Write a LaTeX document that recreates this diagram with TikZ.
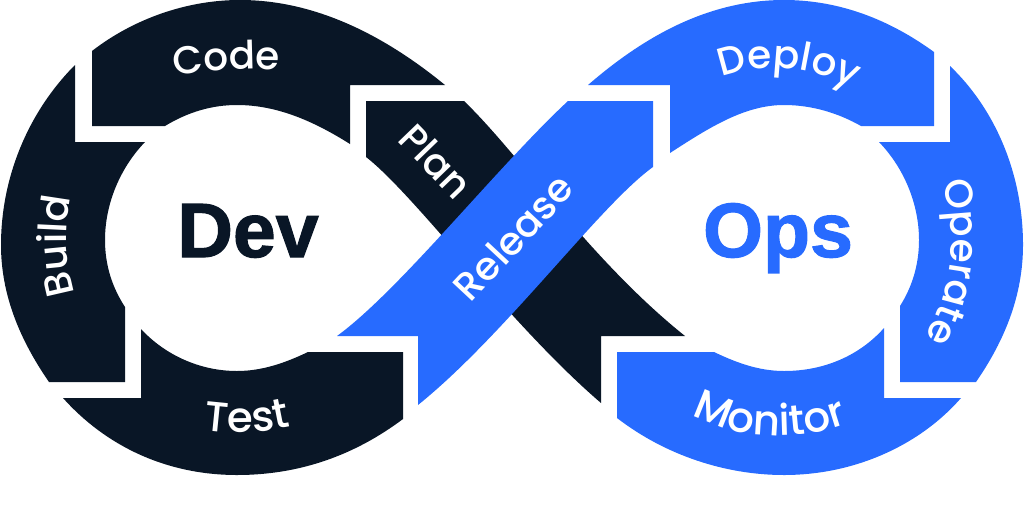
\documentclass[tikz,border=0pt]{standalone}
\usepackage{fontspec}
\setmainfont{Poppins Medium}
\newfontfamily\sidefont{Liberation Sans Bold}[RawFeature={embolden=1.5}]
\usetikzlibrary{decorations.text}
\definecolor{devdark}{HTML}{091626}
\definecolor{opsblue}{HTML}{276BFF}
\newcommand\arclabelfont{\color{white}\fontsize{39}{39}\selectfont}
\newcommand\widearclabelfont{\color{white}\fontsize{42}{42}\selectfont}
\tikzset{
	devpart/.style = {
		fill = devdark
	},
	opspart/.style = {
		fill = opsblue
	},
	sidelabel/.style = {
		anchor = base,
		font = \sidefont\fontsize{77}{77}\selectfont
	},
	bandlabel/.style = {
		text = white,
		font = \fontsize{39}{39}\selectfont
	},
	arclabel/.style = {
		decorate,
		decoration = {text along path, text = {|\arclabelfont|#1}, text align = center}
	},
	widearclabel/.style = {
		decorate,
		decoration = {text along path, text = {|\widearclabelfont|#1}, text align = center}
	}
}
\begin{document}
\begin{tikzpicture}[x=1pt, y=-1pt]
    \useasboundingbox (0,0) rectangle (1024,509) ;

    % left loop
    \path [devpart] (92,51) .. controls (132,20) and (185,0) .. (240,0) .. controls (320,0) and (390,40) .. (445,85) -- (350,85) -- (350,144) .. controls (315,122) and (278,105) .. (237,105) .. controls (212,105) and (188,112) .. (165,126) -- (92,126) -- cycle ;
    \path [devpart] (75,65) .. controls (30,110) and (1,175) .. (1,245) .. controls (1,295) and (20,340) .. (49,382) -- (125,382) -- (125,307) .. controls (112,287) and (105,265) .. (105,240) .. controls (105,204) and (120,168) .. (145,142) -- (75,142) -- cycle ;
    \path [devpart] (63,398) -- (141,398) -- (141,329) .. controls (165,355) and (200,371) .. (237,371) .. controls (262,371) and (285,363) .. (308,352) -- (403,352) -- (403,419) .. controls (355,455) and (300,475) .. (237,475) .. controls (165,475) and (105,445) .. (63,398) -- cycle ;

    % crossing
    \path [devpart] (366,101) -- (464,101) .. controls (520,155) and (590,260) .. (685,336) -- (601,336) -- (601,403) .. controls (510,325) and (415,195) .. (366,157) -- cycle ;
    \path [opspart] (568,101) -- (653,101) -- (653,167) .. controls (600,205) and (505,335) .. (418,405) -- (418,336) -- (337,336) .. controls (400,290) and (498,166) .. (568,101) -- cycle ;

    % right loop
    \path [opspart] (588,85) .. controls (640,40) and (705,0) .. (784,0) .. controls (840,0) and (890,20) .. (934,52) -- (934,126) -- (861,126) .. controls (838,113) and (812,105) .. (784,105) .. controls (745,105) and (710,127) .. (670,153) -- (670,85) -- cycle ;
    \path [opspart] (950,66) .. controls (996,110) and (1023,175) .. (1023,245) .. controls (1023,295) and (1005,340) .. (976,382) -- (900,382) -- (900,306) .. controls (912,287) and (919,265) .. (919,240) .. controls (919,204) and (904,168) .. (879,142) -- (950,142) -- cycle ;
    \path [opspart] (961,398) -- (884,398) -- (884,328) .. controls (860,355) and (825,371) .. (784,371) .. controls (758,371) and (735,362) .. (714,352) -- (617,352) -- (617,418) .. controls (665,455) and (725,475) .. (784,475) .. controls (855,475) and (920,445) .. (961,398) -- cycle ;

    % labels
    \node [sidelabel, text = devdark] (dev) at (248,257) {Dev} ;
    \node [sidelabel, text = opsblue] (ops) at (778,257) {Ops} ;
    \node [bandlabel, rotate = -46] (plan) at (436,161) {Plan} ;
    \node [bandlabel, rotate = 47] (release) at (513,237) {Release} ;

    \path [arclabel = Code] (165,77) .. controls (200,71) and (240,68) .. (290,70) ;
    \path [arclabel = Build] (77,300) .. controls (65,265) and (63,225) .. (73,190) ;
    \path [widearclabel = Test] (195,428) .. controls (220,434) and (260,435) .. (300,424) ;
    \path [arclabel = Deploy] (715,80) .. controls (750,62) and (810,62) .. (860,92) ;
    \path [arclabel = Operate] (941,180) .. controls (956,220) and (958,280) .. (924,340) ;
    \path [widearclabel = Monitor] (685,411) .. controls (735,441) and (800,443) .. (855,421) ;
\end{tikzpicture}
\end{document}
